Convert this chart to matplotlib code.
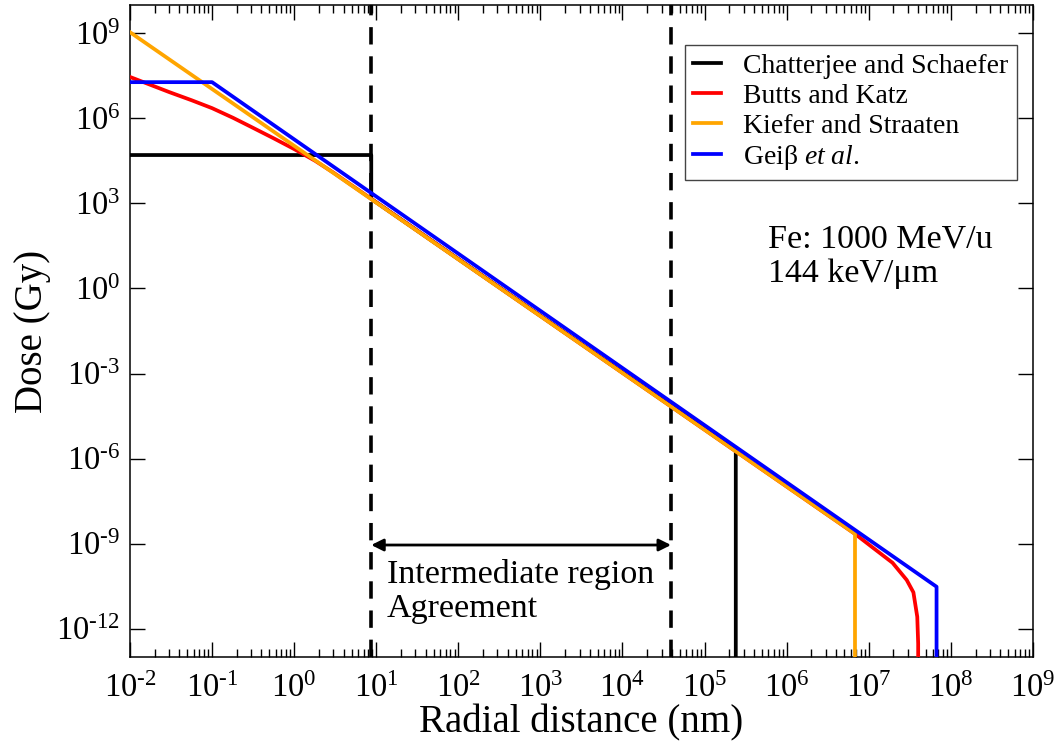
import matplotlib.pyplot as plt
import numpy as np
from matplotlib.ticker import FixedLocator, NullLocator, FuncFormatter

plt.rcParams['font.family'] = ['Liberation Serif', 'DejaVu Serif']
plt.rcParams['mathtext.fontset'] = 'custom'
plt.rcParams['mathtext.rm'] = 'Liberation Serif'
plt.rcParams['mathtext.it'] = 'Liberation Serif:italic'
plt.rcParams['lines.scale_dashes'] = False

# radial dose profiles for Fe 1000 MeV/u : r in nm, dose in Gy
r_cs = [1e-2, 8.7, 8.7, 2.4e5, 2.4e5]
dose_cs = [5.1e4, 5.1e4, 1.45e3, 1.9e-6, 1e-14]

r_bk = [1e-2, 3e-2, 5.6e-2, 1e-1, 1.8e-1, 3e-1, 5.6e-1, 1, 1.8, 3,
        6.8e6, 1.1e7, 1.95e7, 2.9e7, 3.5e7, 3.9e7, 4.0e7, 4.0e7]
dose_bk = [2.9e7, 8.5e6, 4.4e6, 2.3e6, 1.05e6, 5.0e5, 2.0e5, 8.3e4, 3.2e4, 1.23e4,
           2.2e-9, 7.5e-10, 2.1e-10, 5.2e-11, 1.9e-11, 2.6e-12, 3e-13, 1e-14]

r_ks = [1e-2, 6.8e6, 6.8e6]
dose_ks = [1.1e9, 2.2e-9, 1e-14]

r_gs = [1e-2, 1e-1, 6.7e7, 6.7e7]
dose_gs = [1.9e7, 1.9e7, 3.0e-11, 1e-14]

# limits of the intermediate region
r_region = [8.7, 3.9e4]

fig = plt.figure(figsize=(10.54, 7.48), dpi=100)
ax = fig.add_axes([0.1233, 0.1217, 0.8567, 0.8716])

lw = 2.7
ax.plot(r_cs, dose_cs, color='black', lw=lw, label='Chatterjee and Schaefer', zorder=3)
ax.plot(r_bk, dose_bk, color='red', lw=lw, label='Butts and Katz', zorder=4)
ax.plot(r_ks, dose_ks, color='orange', lw=lw, label='Kiefer and Straaten', zorder=5)
ax.plot(r_gs, dose_gs, color='blue', lw=lw, label='Gei\u03b2 $\\mathit{et\\ al.}$', zorder=6)

for xr in r_region:
    ax.axvline(xr, color='black', lw=2.6, dashes=(12.5, 8.5), zorder=2)

ax.annotate('', xy=(r_region[0], 8.9e-10), xytext=(r_region[1], 8.9e-10),
            arrowprops=dict(arrowstyle='<|-|>', color='black', lw=2,
                            mutation_scale=18, shrinkA=0, shrinkB=0))
ax.text(13.5, 10**-10.39, 'Intermediate region', fontsize=24.5, va='baseline')
ax.text(13.5, 10**-11.59, 'Agreement', fontsize=24.5, va='baseline')
ax.text(10**5.77, 10**1.43, 'Fe: 1000 MeV/u', fontsize=24.5, va='baseline')
ax.text(10**5.77, 10**0.23, '144 keV/\u03bcm', fontsize=24.5, va='baseline')

ax.set_xscale('log')
ax.set_yscale('log')
ax.set_xlim(1e-2, 1e9)
ax.set_ylim(1e-13, 1e10)

ax.xaxis.set_major_locator(FixedLocator(10.0 ** np.arange(-2, 10)))
ax.xaxis.set_minor_locator(FixedLocator([m * 10.0 ** e for e in range(-2, 9) for m in range(2, 10)]))
ax.yaxis.set_major_locator(FixedLocator(10.0 ** np.arange(-12, 10, 3)))
ax.yaxis.set_minor_locator(NullLocator())


def pow_label(v, pos):
    e = int(round(np.log10(v)))
    if e < 0:
        return '$\\mathregular{10^{\\text{-}%d}}$' % (-e)
    return '$\\mathregular{10^{%d}}$' % e


fmt = FuncFormatter(pow_label)
ax.xaxis.set_major_formatter(fmt)
ax.yaxis.set_major_formatter(fmt)

ax.tick_params(which='both', direction='in', top=True, right=True, width=1)
ax.tick_params(which='major', length=10.5, labelsize=23.5)
ax.tick_params(which='minor', length=5.5)
ax.tick_params(axis='x', which='major', pad=12)
ax.tick_params(axis='y', which='major', pad=7)
for s in ax.spines.values():
    s.set_linewidth(1.1)

ax.set_xlabel('Radial distance (nm)', fontsize=28, labelpad=0)
ax.set_ylabel('Dose (Gy)', fontsize=28, labelpad=4)

leg = ax.legend(loc='upper right', bbox_to_anchor=(0.9823, 0.9387), borderaxespad=0,
                fontsize=20, handlelength=1.0, handletextpad=0.8, labelspacing=0.16,
                borderpad=0.3, fancybox=False, framealpha=1)
leg.get_frame().set_edgecolor('#444444')
leg.get_frame().set_linewidth(1)

plt.savefig('out.png', dpi=100)
